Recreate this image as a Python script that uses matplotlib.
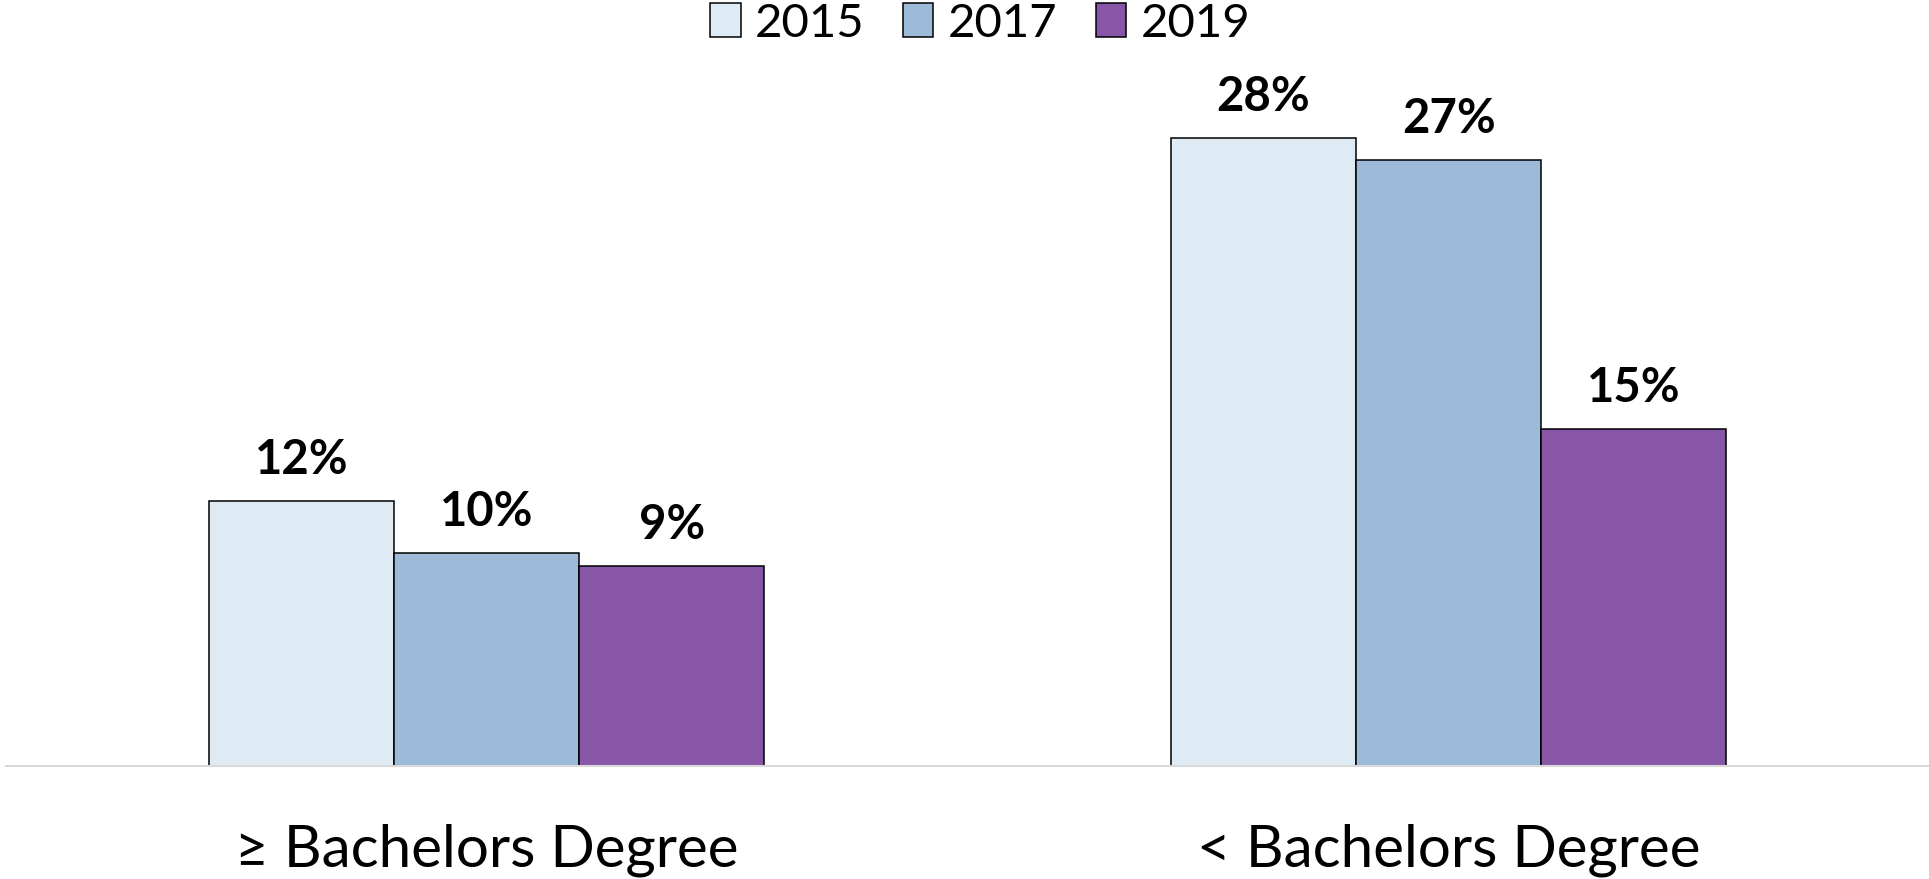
import matplotlib
matplotlib.use("Agg")
import matplotlib.pyplot as plt
import numpy as np

plt.rcParams['font.family'] = ['Lato', 'DejaVu Sans']

# data (percent)
categories = ["\u2265 Bachelors Degree", "< Bachelors Degree"]
years = ["2015", "2017", "2019"]
pct_2015 = [11.8, 28.0]
pct_2017 = [9.5, 27.0]
pct_2019 = [8.9, 15.0]

colors = ["#DEEBF4", "#9EBAD9", "#8856A7"]

W, H = 1929, 879
fig = plt.figure(figsize=(19.295, 8.795), dpi=100)
px_per_pct = 22.42
ymax = 30
ax = fig.add_axes([6 / W, 113 / H, 1923 / W, ymax * px_per_pct / H])

x = np.arange(len(categories))
width = 0.1924
series = [pct_2015, pct_2017, pct_2019]
for i, (vals, yr, col) in enumerate(zip(series, years, colors)):
    bars = ax.bar(x + (i - 1) * width, vals, width, color=col, edgecolor="black",
                  linewidth=1.1, label=yr, zorder=3)
    for b, v in zip(bars, vals):
        ax.annotate(f"{int(v + 0.5)}%", (b.get_x() + b.get_width() / 2, v),
                    xytext=(0, 30), textcoords="offset points",
                    ha="center", va="center", fontsize=34, fontweight="bold")

ax.set_xlim(-0.5, 1.5)
ax.set_ylim(0, ymax)
ax.set_yticks([])
for s in ["top", "right", "left"]:
    ax.spines[s].set_visible(False)
ax.spines["bottom"].set_color("#D9D9D9")
ax.spines["bottom"].set_linewidth(1.5)
ax.spines["bottom"].set_zorder(4)
ax.set_xticks(x)
ax.set_xticklabels(categories, fontsize=42)
ax.tick_params(axis="x", length=0, pad=41)

fig.legend(loc="center", bbox_to_anchor=(980 / W, 1 - 24 / H), ncol=3,
           frameon=False, fontsize=34, handlelength=0.64, handleheight=0.7,
           handletextpad=0.3, columnspacing=0.82, borderpad=0, borderaxespad=0)

fig.savefig("out.png", dpi=100)
